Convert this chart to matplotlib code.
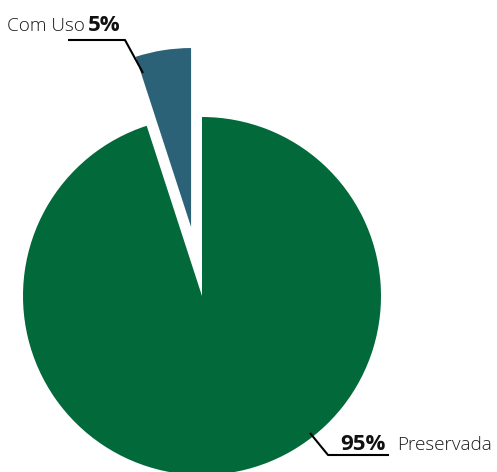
import matplotlib
matplotlib.use("Agg")
import matplotlib.pyplot as plt

categories = ["Preservada", "Com Uso"]
values = [95, 5]
labels_pct = ["95%", "5%"]
colors = ["#026A3A", "#2B6278"]

W, H = 497, 472
fig = plt.figure(figsize=(W / 100, H / 100), dpi=100)
ax = fig.add_axes([0, 0, 1, 1])

cx, cy, r = 202, H - 296, 179
ax.pie(values, colors=colors, startangle=90, counterclock=False,
       explode=[0, 0.39 * r], center=(cx, cy), radius=r, frame=True,
       wedgeprops=dict(linewidth=0))
ax.set_xlim(0, W)
ax.set_ylim(0, H)
ax.axis("off")

def Y(py):
    return H - py

light = dict(family=["Open Sans", "DejaVu Sans"], fontweight=300, fontsize=13.6, color="#1a1a1a")
bold = dict(family=["Open Sans", "DejaVu Sans"], fontweight="bold", fontsize=16, color="#111111")

# Com Uso label
ax.plot([68, 125, 143], [Y(40), Y(40), Y(73)], color="black", lw=1.5, solid_capstyle="butt")
ax.text(85, Y(31), categories[1], ha="right", va="baseline", **light)
ax.text(88, Y(31), labels_pct[1], ha="left", va="baseline", **bold)

# Preservada label
ax.plot([310, 328, 389], [Y(433), Y(455), Y(455)], color="black", lw=1.5, solid_capstyle="butt")
ax.text(386, Y(450), labels_pct[0], ha="right", va="baseline", **bold)
ax.text(397, Y(450), categories[0], ha="left", va="baseline", **light)

fig.savefig("out.png", dpi=100)
